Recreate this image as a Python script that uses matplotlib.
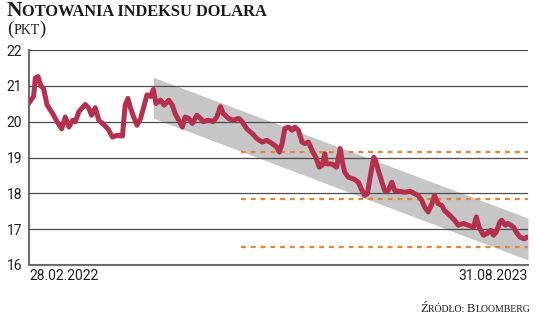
import matplotlib
matplotlib.use('Agg')
import matplotlib.pyplot as plt
import pandas as pd

# kurs: dni od 28.02.2022 i wartości
start = pd.Timestamp('2022-02-28')
end = pd.Timestamp('2023-09-01')
day_offsets = [0, 5, 7, 10, 13, 16, 20, 26, 31, 36, 40, 44, 48, 51, 55, 62, 66, 69,
               73, 77, 83, 87, 92, 97, 103, 106, 109, 112, 116, 119, 123, 127, 130,
               134, 137, 140, 145, 149, 154, 158, 161, 165, 169, 172, 176, 180, 185,
               189, 192, 198, 203, 207, 211, 214, 220, 225, 231, 235, 240, 246, 251,
               257, 262, 268, 273, 276, 279, 282, 286, 290, 293, 297, 301, 304, 308,
               312, 316, 320, 323, 326, 328, 334, 339, 343, 345, 348, 352, 358, 363,
               367, 370, 373, 376, 380, 382, 385, 389, 392, 396, 400, 403, 409, 414,
               420, 425, 429, 433, 436, 440, 444, 447, 451, 455, 458, 464, 469, 473,
               479, 484, 490, 493, 496, 501, 505, 509, 512, 515, 519, 521, 525, 528,
               534, 537, 541, 546, 549]
values = [20.52, 20.70, 21.22, 21.26, 21.00, 20.93, 20.46, 20.23, 20.00, 19.80, 20.13,
          19.85, 20.04, 20.00, 20.28, 20.48, 20.37, 20.18, 20.39, 20.04, 19.90, 19.80,
          19.57, 19.62, 19.60, 20.46, 20.65, 20.37, 20.09, 19.90, 20.09, 20.46, 20.75,
          20.70, 20.90, 20.51, 20.60, 20.46, 20.60, 20.46, 20.23, 20.04, 19.85, 20.13,
          20.09, 19.95, 20.18, 20.09, 20.00, 20.04, 20.00, 20.13, 20.42, 20.23, 20.09,
          20.04, 20.09, 20.00, 19.80, 19.67, 19.53, 19.43, 19.48, 19.39, 19.29, 19.15,
          19.39, 19.81, 19.85, 19.76, 19.85, 19.76, 19.43, 19.39, 19.43, 19.20, 19.01,
          18.73, 18.78, 19.10, 18.82, 18.82, 18.73, 19.25, 18.92, 18.59, 18.45, 18.40,
          18.31, 18.08, 17.94, 17.99, 18.45, 19.01, 18.92, 18.64, 18.31, 18.08, 18.08,
          18.31, 18.08, 18.05, 18.03, 18.06, 17.99, 17.94, 17.80, 17.62, 17.48, 17.71,
          17.94, 17.71, 17.66, 17.52, 17.38, 17.25, 17.11, 17.16, 17.11, 17.06, 17.34,
          17.06, 16.83, 16.88, 16.97, 16.83, 16.92, 17.20, 17.25, 17.11, 17.16, 17.06,
          16.92, 16.78, 16.73, 16.78]
dates = start + pd.to_timedelta(day_offsets, unit='D')

# kanał spadkowy
band_dates = pd.to_datetime(['2022-07-15', '2023-09-01'])
band_top = [21.24, 17.31]
band_bottom = [20.10, 16.14]

# poziomy wsparcia
level_start = pd.Timestamp('2022-10-20')
levels = [19.15, 17.83, 16.51]

yticks = [16, 17, 18, 19, 20, 21, 22]
date_ticks = pd.to_datetime(['2022-02-28', '2023-09-01'])
date_labels = ['28.02.2022', '31.08.2023']

W, H = 536, 317
fig = plt.figure(figsize=(W / 100, H / 100), dpi=100)
ax = fig.add_axes([29 / W, 1 - 265 / H, (528 - 29) / W, (265 - 50) / H])

ax.fill_between(band_dates, band_bottom, band_top, color='#c6c6c6', lw=0, zorder=1)
ax.hlines(levels, level_start, end, colors='#e0873a', linestyles=(0, (2.2, 2.2)),
          lw=1.6, zorder=2)
ax.plot(dates, values, color='#b5304f', lw=3.6, solid_joinstyle='round',
        solid_capstyle='round', zorder=4)

ax.set_xlim(start, end)
ax.set_ylim(16, 22)
ax.set_yticks(yticks)
ax.set_axisbelow(False)
ax.yaxis.grid(True, color='#4d4d4d', lw=0.9)
ax.set_xticks(date_ticks)
ax.set_xticklabels(date_labels)
for lab, ha in zip(ax.get_xticklabels(), ['left', 'right']):
    lab.set_ha(ha)
ax.tick_params(length=0, labelsize=10, labelcolor='#1e1e1e')
ax.tick_params(axis='y', pad=5)
ax.tick_params(axis='x', pad=3)
for lab in ax.get_xticklabels() + ax.get_yticklabels():
    lab.set_family('Roboto')
for s in ['top', 'right']:
    ax.spines[s].set_visible(False)
for s in ['left', 'bottom']:
    ax.spines[s].set_color('#6e6e6e')
    ax.spines[s].set_linewidth(1.5)


def caps_text(x, y, text, big, small, ha='left', **kw):
    # kapitaliki: duże litery w rozmiarze big, małe jako wersaliki w rozmiarze small
    r = fig.canvas.get_renderer()
    runs = []
    for ch in text:
        size = big if (ch.isupper() or ch in '()') else small
        if runs and runs[-1][1] == size:
            runs[-1][0] += ch
        else:
            runs.append([ch, size])

    def width(s, size):
        t = fig.text(0, 0, '|' + s.upper() + '|', fontsize=size, **kw)
        t2 = fig.text(0, 0, '||', fontsize=size, **kw)
        w = t.get_window_extent(r).width - t2.get_window_extent(r).width
        t.remove()
        t2.remove()
        return w

    widths = [width(s, sz) for s, sz in runs]
    px = x * W
    if ha == 'right':
        px -= sum(widths)
    for (s, sz), w in zip(runs, widths):
        fig.text(px / W, y, s.upper(), fontsize=sz, va='baseline', ha='left', **kw)
        px += w


serif = 'Liberation Serif'
caps_text(7 / W, 1 - 15.5 / H, 'Notowania indeksu dolara', 15.3, 11.8,
          family=serif, weight='bold', color='#1a1a1a')
caps_text(7 / W, 1 - 34 / H, '(pkt)', 13.5, 10,
          family=serif, color='#1a1a1a')
caps_text(530 / W, 1 - 312.5 / H, 'Źródło: Bloomberg', 9, 7, ha='right',
          family=serif, color='#1a1a1a')

fig.savefig('out.png', dpi=100)
